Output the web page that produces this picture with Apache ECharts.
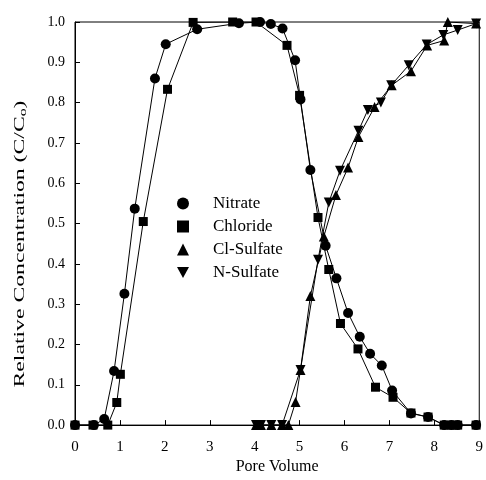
<!DOCTYPE html>
<html><head><meta charset="utf-8">
<script src="https://cdn.jsdelivr.net/npm/echarts@6/dist/echarts.min.js"></script>
<style>html,body{margin:0;padding:0;background:#fff}#c{width:486px;height:480px}</style>
</head><body><div id="c"></div>
<script>
const xTicks = [0,1,2,3,4,5,6,7,8,9];
const yTicks = [0,0.1,0.2,0.3,0.4,0.5,0.6,0.7,0.8,0.9,1.0];
const seriesNames = ['Nitrate','Chloride','Cl-Sulfate','N-Sulfate'];
const xTitle = 'Pore Volume';
const yTitle = 'Relative Concentration (C/C{s|o})';

const nitrateX = [0,0.42,0.65,0.87,1.10,1.33,1.78,2.02,2.72,3.65,4.12,4.36,4.62,4.90,5.02,5.24,5.58,5.82,6.08,6.34,6.57,6.83,7.06,7.48,7.86,8.22,8.38,8.52,8.93];
const nitrateY = [0,0,0.015,0.134,0.326,0.537,0.86,0.945,0.982,0.997,1.0,0.995,0.984,0.905,0.808,0.633,0.445,0.364,0.278,0.219,0.177,0.148,0.086,0.029,0.02,0,0,0,0];

const chlorideX = [0,0.40,0.73,0.93,1.01,1.52,2.06,2.63,3.51,4.03,4.72,5.00,5.41,5.65,5.91,6.30,6.69,7.08,7.48,7.86,8.22,8.38,8.52,8.93];
const chlorideY = [0,0,0,0.056,0.126,0.505,0.833,0.999,1.0,1.0,0.942,0.818,0.515,0.386,0.252,0.189,0.094,0.069,0.03,0.02,0,0,0,0];

const clSulfateX = [4.03,4.14,4.37,4.61,4.75,4.91,5.02,5.24,5.54,5.81,6.08,6.31,6.67,7.05,7.48,7.84,8.22,8.30,8.93];
const clSulfateY = [0,0,0,0,0,0.057,0.137,0.32,0.468,0.571,0.639,0.715,0.789,0.843,0.878,0.942,0.954,1.0,0.996];

const nSulfateX = [4.03,4.14,4.37,4.61,5.02,5.41,5.65,5.90,6.31,6.52,6.81,7.04,7.43,7.83,8.20,8.52,8.93];
const nSulfateY = [0,0,0,0,0.137,0.41,0.552,0.631,0.73,0.782,0.80,0.843,0.893,0.944,0.968,0.98,0.996];

const zip = (xs, ys) => xs.map((x, i) => [x, ys[i]]);
const downTri = 'path://M0,0L10,0L5,9Z';
const serif = '"Liberation Serif","DejaVu Serif",serif';

const mk = (name, xs, ys, symbol, size) => ({
  name, type: 'line', data: zip(xs, ys), symbol, symbolSize: size,
  lineStyle: {color: '#000', width: 1}, itemStyle: {color: '#000'},
  showAllSymbol: true, animation: false, z: 3
});

const chart = echarts.init(document.getElementById('c'));
chart.setOption({
  animation: false,
  backgroundColor: '#fff',
  grid: {left: 75, right: 5, top: 22, bottom: 50, show: true, borderColor: '#000', borderWidth: 1},
  legend: {
    orient: 'vertical', left: 172, top: 190, itemWidth: 12, itemHeight: 12, itemGap: 6,
    textStyle: {fontFamily: serif, fontSize: 17, color: '#000', padding: [0,0,0,19]},
    data: [
      {name: seriesNames[0], icon: 'circle'},
      {name: seriesNames[1], icon: 'rect'},
      {name: seriesNames[2], icon: 'triangle'},
      {name: seriesNames[3], icon: downTri}
    ],
    itemStyle: {color: '#000'}
  },
  graphic: [{
    type: 'text', x: 20, y: 244, rotation: Math.PI / 2, scaleX: 1.58, scaleY: 1,
    style: {
      text: yTitle, fontFamily: serif, fontSize: 15, fill: '#000', align: 'center', verticalAlign: 'middle',
      rich: {s: {fontFamily: serif, fontSize: 10, fill: '#000', padding: [7,0,0,0]}}
    }
  }],
  xAxis: {
    type: 'value', min: 0, max: 9, interval: 1,
    name: xTitle, nameLocation: 'middle', nameGap: 32,
    nameTextStyle: {fontFamily: serif, fontSize: 16, color: '#000'},
    axisLine: {lineStyle: {color: '#000', width: 1}},
    axisTick: {inside: true, length: 5, lineStyle: {color: '#000'}},
    axisLabel: {fontFamily: serif, fontSize: 15, color: '#000', margin: 14,
      formatter: v => xTicks.includes(v) ? String(v) : ''},
    splitLine: {show: false}
  },
  yAxis: {
    type: 'value', min: 0, max: 1, interval: 0.1,
    axisLine: {lineStyle: {color: '#000', width: 1}},
    axisTick: {inside: true, length: 5, lineStyle: {color: '#000'}},
    axisLabel: {fontFamily: serif, fontSize: 14, color: '#000', margin: 10,
      formatter: v => { const t = yTicks.find(k => Math.abs(k - v) < 1e-6); return t === undefined ? '' : t.toFixed(1); }},
    splitLine: {show: false}
  },
  series: [
    mk(seriesNames[0], nitrateX, nitrateY, 'circle', 10),
    mk(seriesNames[1], chlorideX, chlorideY, 'rect', 9),
    mk(seriesNames[2], clSulfateX, clSulfateY, 'triangle', 10),
    mk(seriesNames[3], nSulfateX, nSulfateY, downTri, 10)
  ]
});
</script></body></html>
